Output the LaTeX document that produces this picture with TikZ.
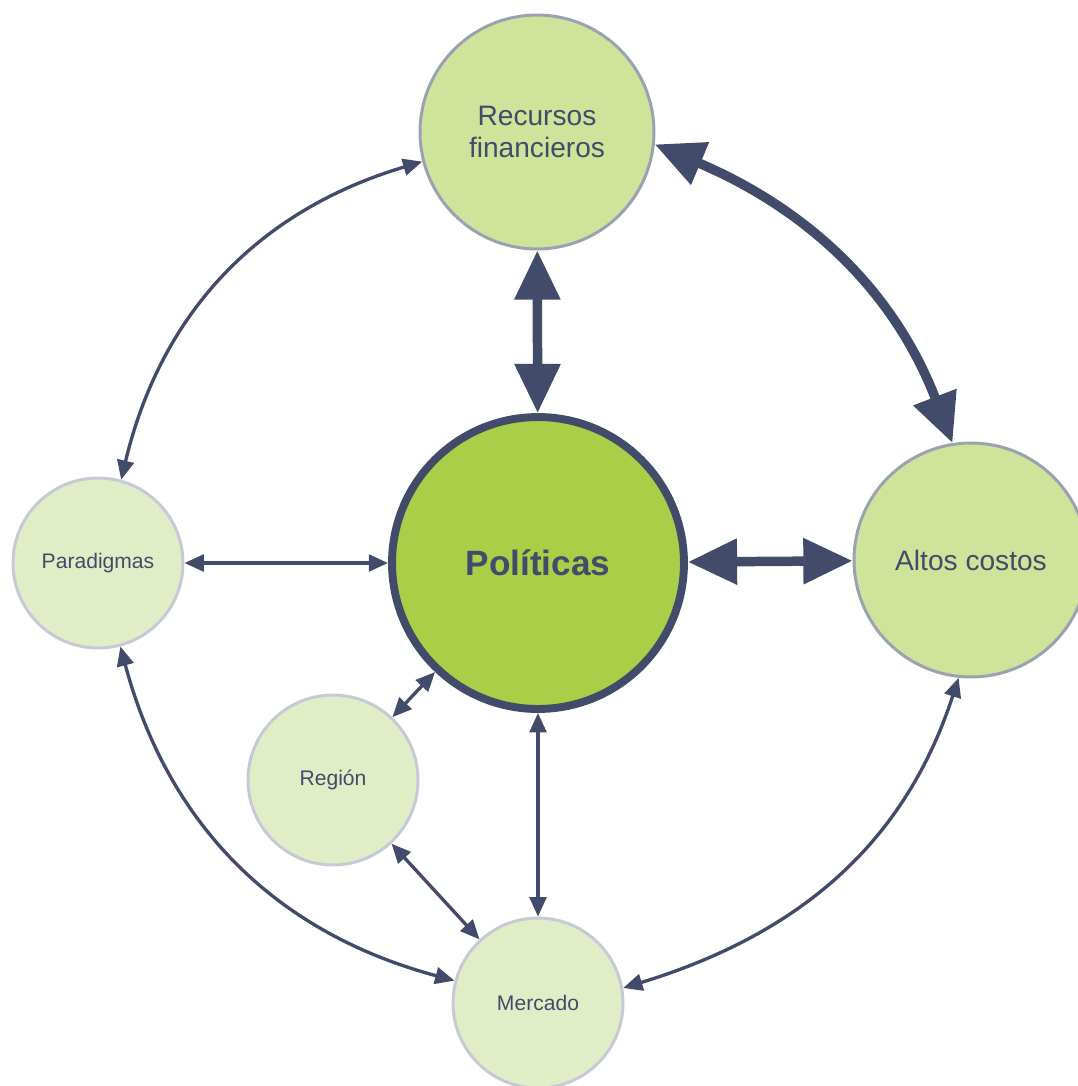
\documentclass[tikz,border=0pt]{standalone}
\usepackage{fontspec}
\setmainfont{Liberation Sans}
\usetikzlibrary{arrows.meta}
\definecolor{arrowc}{HTML}{424B69}
\definecolor{bigfill}{HTML}{CFE39A}
\definecolor{bigline}{HTML}{9BA1B2}
\definecolor{smallfill}{HTML}{E1EDC6}
\definecolor{smallline}{HTML}{C7CAD6}
\definecolor{polfill}{HTML}{A9CE47}

\begin{document}
\begin{tikzpicture}[x=0.02cm, y=-0.02cm, line join=round,
    ball/.style={circle, inner sep=0pt, line width=1.7pt, text=arrowc},
    bigball/.style={ball, fill=bigfill, draw=bigline, minimum size=4.68cm,
        align=center, font=\fontsize{16}{18.2}\selectfont},
    smallball/.style={ball, fill=smallfill, draw=smallline, minimum size=3.4cm,
        font=\fontsize{12}{14}\selectfont},
    polball/.style={ball, fill=polfill, draw=arrowc, line width=4.5pt,
        minimum size=5.84cm, font=\fontsize{20}{24}\selectfont\bfseries},
    lightlink/.style={arrowc, line width=1.9pt,
        {Triangle[length=11pt,width=9.5pt]}-{Triangle[length=11pt,width=9.5pt]}},
    heavylink/.style={arrowc, line width=5.4pt,
        {Triangle[length=28pt,width=25pt]}-{Triangle[length=28pt,width=25pt]}}]

    \useasboundingbox (0,0) rectangle (1078,1086);

    % centre
    \node[polball] (pol) at (538,563) {Políticas};
    % big circles
    \node[bigball] (rec) at (537,132) {Recursos\\financieros};
    \node[bigball] (alt) at (971,560) {Altos costos};
    % small circles
    \node[smallball] (par) at (98,563) {Paradigmas};
    \node[smallball] (reg) at (333,780) {Región};
    \node[smallball] (mer) at (538,1003) {Mercado};

    % heavy links
    \draw[heavylink] (rec) -- (pol);
    \draw[heavylink] (pol) -- (alt);
    \draw[heavylink] (rec.-6) to[out=-23, in=111] (alt.99);
    % light links
    \draw[lightlink] (par) -- (pol);
    \draw[lightlink] (reg) -- (pol);
    \draw[lightlink] (reg) -- (mer);
    \draw[lightlink] (pol) -- (mer);
    \draw[lightlink] (par) to[bend left=30] (rec);
    \draw[lightlink] (par) to[bend right=30] (mer);
    \draw[lightlink] (mer.10) to[out=17, in=252] (alt.264);

\end{tikzpicture}
\end{document}
